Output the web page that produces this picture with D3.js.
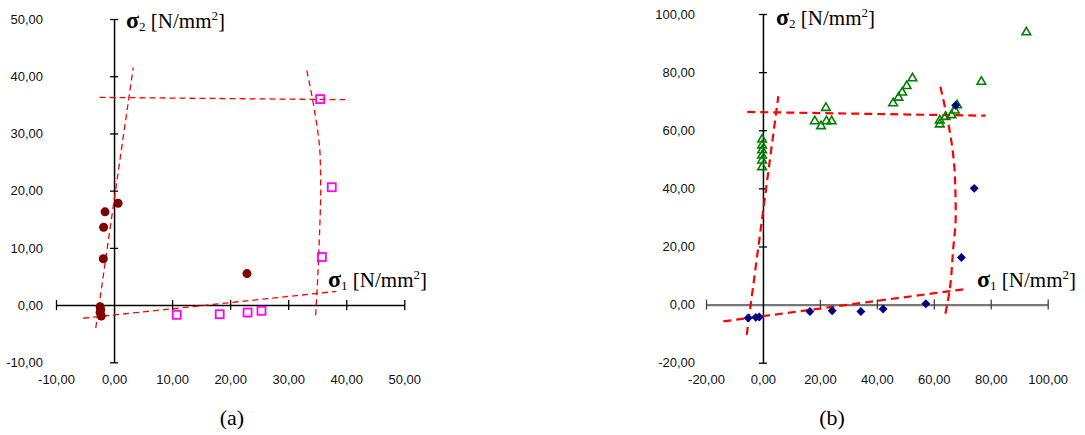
<!DOCTYPE html>
<html>
<head>
<meta charset="utf-8">
<script src="https://cdn.jsdelivr.net/npm/d3@7"></script>
<style>
  body { margin: 0; background: #fff; }
  svg { display: block; }
  .tick text { font-family: "Liberation Sans", Arial, sans-serif; font-size: 13px; fill: #111; }
  .lbl { font-family: "Liberation Serif", "Times New Roman", serif; fill: #000; }
</style>
</head>
<body>
<div id="chart"></div>
<script>
// ---- data (a) ----
const aTicks = [-10, 0, 10, 20, 30, 40, 50];
const aCircles = [[0.7, 17.8], [-1.55, 16.3], [-1.8, 13.6], [-1.85, 8.1], [22.9, 5.5],
  [-2.4, -0.3], [-2.3, -0.8], [-2.4, -1.3], [-2.2, -1.9]];
const aSquares = [[10.8, -1.7], [18.2, -1.6], [23.0, -1.3], [25.4, -1.0],
  [35.5, 36.0], [37.5, 20.6], [35.8, 8.4]];
const aFitLeft = [[-3.15, -4.0], [3.3, 41.5]];
const aFitTop = [[-2.5, 36.3], [39.8, 35.9]];
const aFitRight = [[33.2, 41], [34.5, 34.2], [35.5, 26], [35.6, 20], [35.4, 12.6], [35.1, 5], [34.7, -2.2]];
const aFitBottom = [[-5.3, -2.3], [38.3, 2.4]];

// ---- data (b) ----
const bTicks = [-20, 0, 20, 40, 60, 80, 100];
const bTriangles = [[-0.3, 56.8], [-0.3, 54.8], [-0.3, 53.1], [-0.3, 51.3], [-0.3, 49.6], [-0.3, 47.3],
  [18.2, 63.1], [20.4, 61.4], [22.1, 67.7], [22.3, 63.1], [24.1, 63.1],
  [45.7, 69.3], [47.6, 71.2], [48.9, 73.0], [50.5, 75.2], [52.5, 77.9],
  [62.1, 63.4], [62.1, 62.0], [64.1, 64.6], [66.2, 65.2], [67.4, 66.8], [68.2, 68.6],
  [76.7, 76.7], [92.5, 93.7]];
const bDiamonds = [[-5.2, -4.6], [-2.5, -4.4], [-1.3, -4.3], [16.5, -2.4], [24.3, -2.1],
  [34.4, -2.4], [42.2, -1.5], [57.2, 0.3], [69.7, 16.2], [74.2, 40.0], [67.7, 68.6]];
const bFitLeft = [[-5.7, -10.4], [5.4, 71.7]];
const bFitTop = [[-5.5, 66.3], [78.2, 65.0]];
const bFitRight = [[62.3, 75], [64.4, 65.7], [66.2, 56], [67.4, 44.4], [67.7, 30.6], [66.8, 19], [65.6, 5.2], [63.9, -4]];
const bFitBottom = [[-13.9, -5.8], [71.5, 5.4]];

const W = 1085, H = 435;
const svg = d3.select('#chart').append('svg').attr('width', W).attr('height', H);

const fmt = d3.formatLocale({decimal: ',', thousands: '.', grouping: [3], currency: ['', ''], minus: '-'}).format('.2f');

function panel(opts) {
  const x = d3.scaleLinear().domain(opts.xDomain).range(opts.xRange);
  const y = d3.scaleLinear().domain(opts.yDomain).range(opts.yRange);
  const g = svg.append('g');
  const x0 = x(0), y0 = y(0);
  const labelY = 380;

  // x axis
  const gx = g.append('g')
    .attr('transform', `translate(0,${y0})`)
    .call(d3.axisBottom(x).tickValues(opts.ticks).tickFormat(fmt).tickSizeOuter(0));
  gx.select('.domain').attr('stroke', opts.xAxisColor).attr('stroke-width', opts.xAxisWidth);
  gx.selectAll('.tick line').attr('y1', -5).attr('y2', 5).attr('stroke', opts.xTickColor).attr('stroke-width', 1.3);
  gx.selectAll('.tick text').attr('y', labelY - y0).attr('dy', '0.32em');
  gx.selectAll('.tick').filter(d => d === 0).select('line').remove();

  // y axis
  const gy = g.append('g')
    .attr('transform', `translate(${x0},0)`)
    .call(d3.axisLeft(y).tickValues(opts.ticks).tickFormat(fmt).tickSizeOuter(0));
  gy.select('.domain').attr('stroke', '#000').attr('stroke-width', 1.5);
  gy.selectAll('.tick line').attr('x1', -4).attr('x2', 4).attr('stroke', '#000').attr('stroke-width', 1.3);
  gy.selectAll('.tick text').attr('x', opts.yLabelX - x0).attr('text-anchor', 'end');
  gy.selectAll('.tick').filter(d => d === 0).select('line').remove();

  // fit lines
  const line = d3.line().x(d => x(d[0])).y(d => y(d[1])).curve(d3.curveMonotoneY);
  const straight = d3.line().x(d => x(d[0])).y(d => y(d[1]));
  opts.fits.forEach(f => {
    g.append('path')
      .attr('d', f.length > 2 ? line(f) : straight(f))
      .attr('fill', 'none')
      .attr('stroke', '#ff0000')
      .attr('stroke-width', opts.fitWidth)
      .attr('stroke-dasharray', opts.dash);
  });

  // axis titles
  function title(tx, ty, sub) {
    const t = g.append('text').attr('class', 'lbl').attr('x', tx).attr('y', ty).attr('font-size', 21);
    t.append('tspan').text('σ').attr('font-weight', 'bold').attr('font-size', 24);
    t.append('tspan').text(sub).attr('font-size', 13).attr('dy', 3);
    t.append('tspan').text(' [N/mm').attr('dy', -3);
    t.append('tspan').text('2').attr('font-size', 13).attr('dy', -8);
    t.append('tspan').text(']').attr('dy', 8);
  }
  title(opts.s2[0], opts.s2[1], '2');
  title(opts.s1[0], opts.s1[1], '1');

  g.append('text').attr('class', 'lbl').attr('x', opts.caption).attr('y', 425)
    .attr('text-anchor', 'middle').attr('font-size', 22).text(opts.captionText);

  return {g, x, y};
}

// ---- panel (a) ----
const A = panel({
  xDomain: [-10, 50], xRange: [56, 404.3],
  yDomain: [-10, 50], yRange: [362.3, 19],
  ticks: aTicks, xAxisColor: '#000', xTickColor: '#000', xAxisWidth: 1.5, yLabelX: 43,
  fits: [aFitLeft, aFitTop, aFitRight, aFitBottom], fitWidth: 1.3, dash: '6,4',
  s2: [126, 28], s1: [328, 287], caption: 232, captionText: '(a)'
});
A.g.selectAll('circle.pt').data(aCircles).join('circle')
  .attr('class', 'pt')
  .attr('cx', d => A.x(d[0])).attr('cy', d => A.y(d[1])).attr('r', 4.5)
  .attr('fill', '#800000');
A.g.selectAll('rect.pt').data(aSquares).join('rect')
  .attr('class', 'pt')
  .attr('x', d => A.x(d[0]) - 4).attr('y', d => A.y(d[1]) - 4)
  .attr('width', 8).attr('height', 8)
  .attr('fill', 'none').attr('stroke', '#ff00ff').attr('stroke-width', 1.8);

// ---- panel (b) ----
const B = panel({
  xDomain: [-20, 100], xRange: [706, 1047.7],
  yDomain: [-20, 100], yRange: [362.7, 14],
  ticks: bTicks, xAxisColor: '#777', xTickColor: '#444', xAxisWidth: 2.2, yLabelX: 695,
  fits: [bFitLeft, bFitTop, bFitRight, bFitBottom], fitWidth: 2.2, dash: '8,5',
  s2: [776, 25], s1: [977, 287], caption: 832, captionText: '(b)'
});
const tri = d3.symbol().type(d3.symbolTriangle).size(32);
B.g.selectAll('path.tri').data(bTriangles).join('path')
  .attr('class', 'tri')
  .attr('d', tri)
  .attr('transform', d => `translate(${B.x(d[0])},${B.y(d[1])})`)
  .attr('fill', 'none').attr('stroke', '#008000').attr('stroke-width', 1.6);
// diamond = square rotated 45 degrees
const dia = d3.symbol().type(d3.symbolSquare).size(40);
B.g.selectAll('path.dia').data(bDiamonds).join('path')
  .attr('class', 'dia')
  .attr('d', dia)
  .attr('transform', d => `translate(${B.x(d[0])},${B.y(d[1])}) rotate(45)`)
  .attr('fill', '#000080');
</script>
</body>
</html>
